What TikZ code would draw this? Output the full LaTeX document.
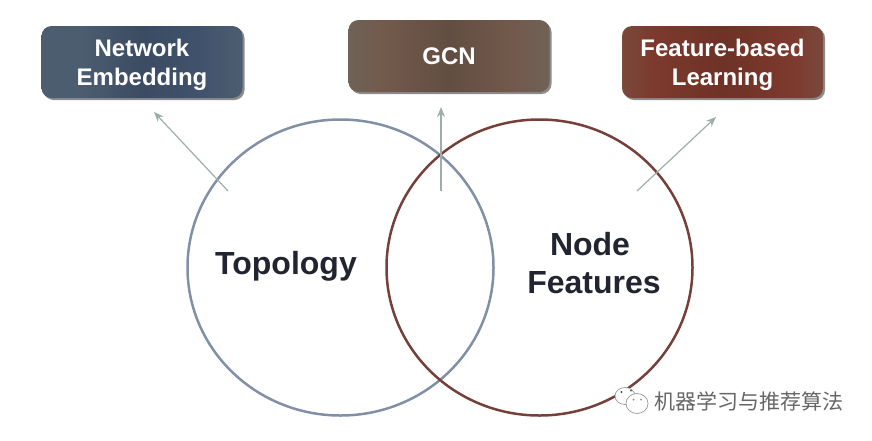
\documentclass[tikz,border=0pt]{standalone}
\usepackage{fontspec}
\setmainfont{Liberation Sans}
\newfontfamily\cjkfont{Noto Sans CJK SC}
\usetikzlibrary{arrows.meta,positioning,shadings,shadows,shapes.geometric}
\definecolor{boxblueA}{HTML}{3A4B63}
\definecolor{boxblueB}{HTML}{4D5D70}
\definecolor{boxblueC}{HTML}{41536C}
\definecolor{boxbrownA}{HTML}{624E40}
\definecolor{boxbrownB}{HTML}{735A4D}
\definecolor{boxbrownC}{HTML}{6F6257}
\definecolor{boxredA}{HTML}{6E3226}
\definecolor{boxredB}{HTML}{7D392D}
\definecolor{boxredC}{HTML}{7A483C}
\definecolor{ringblue}{HTML}{8290A6}
\definecolor{ringred}{HTML}{76403A}
\definecolor{arrowgrey}{HTML}{9DAFA8}
\definecolor{inktext}{HTML}{22252F}
\pgfdeclarehorizontalshading{bluebar}{100bp}{
	color(0bp)=(boxblueB); color(25bp)=(boxblueB); color(35bp)=(boxblueB);
	color(50bp)=(boxblueA); color(65bp)=(boxblueC); color(75bp)=(boxblueB); color(100bp)=(boxblueB)}
\pgfdeclarehorizontalshading{brownbar}{100bp}{
	color(0bp)=(boxbrownC); color(25bp)=(boxbrownC); color(33bp)=(boxbrownB);
	color(50bp)=(boxbrownA); color(67bp)=(boxbrownB); color(75bp)=(boxbrownC); color(100bp)=(boxbrownC)}
\pgfdeclarehorizontalshading{redbar}{100bp}{
	color(0bp)=(boxredC); color(25bp)=(boxredC); color(33bp)=(boxredB);
	color(50bp)=(boxredA); color(67bp)=(boxredB); color(75bp)=(boxredC); color(100bp)=(boxredC)}
\tikzset{
	tagbox/.style={rounded corners=10pt,minimum width=201pt,minimum height=72pt,inner sep=0pt,
		align=center,text=white,font=\fontsize{24}{29.5}\selectfont\bfseries,
		drop shadow={shadow xshift=2pt,shadow yshift=-2pt,opacity=.6,fill=black!75}},
	ring/.style={ellipse,draw,line width=2.5pt,minimum width=306pt,minimum height=296pt,inner sep=0pt},
	ringlabel/.style={align=center,text=inktext,font=\fontsize{32}{38}\selectfont\bfseries},
	ar/.style={draw=arrowgrey,line width=1.2pt,-{Stealth[length=10pt,width=8pt]}},
	wechat/.style={ellipse,draw=black!40,fill=white,line width=.7pt,inner sep=0pt}
}
\newcommand{\toppad}{\rule{0pt}{23pt}}
\begin{document}
\begin{tikzpicture}[x=1pt,y=-1pt]
   \useasboundingbox (0,0) rectangle (872,440);
   \node[ring,draw=ringblue] (topo) at (340.5,267.5) {};
   \node[ring,draw=ringred] (feat) at (539.5,267.5) {};
   \node[ringlabel] (topolabel) at (286,266) {Topology};
   \node[ringlabel] (featlabel) at (594,263) {Node\kern8pt\\Features};
   \node[tagbox,shading=bluebar] (embed) at (142,62) {\toppad Network\\Embedding};
   \node[tagbox,shading=brownbar] (gcn) at (449,56) {GCN};
   \node[tagbox,shading=redbar] (learn) at (722.5,62) {\toppad Feature-based\\Learning};
   \coordinate (embedtail) at (228,191);
   \coordinate (embedtip) at (154,112);
   \coordinate (gcntail) at (441,191);
   \coordinate (gcntip) at (441,107);
   \coordinate (learntail) at (637,191);
   \coordinate (learntip) at (716,117);
   \draw[ar] (embedtail) -- (embedtip);
   \draw[ar] (gcntail) -- (gcntip);
   \draw[ar] (learntail) -- (learntip);
   % watermark
   \node[wechat,minimum width=20pt,minimum height=17pt] (bubbleA) at (625,396) {};
   \node[wechat,minimum width=22pt,minimum height=20pt] (bubbleB) at (637,403.5) {};
   \fill[black!70] (621.5,392) circle (1.2pt) (631,390.5) circle (1pt);
   \fill[black!45] (633.5,399.5) circle (1pt) (641,399.5) circle (1pt);
   \node[anchor=west,inner sep=0pt,text=black!60,font=\cjkfont\fontsize{21}{21}\selectfont] (mark) at (654,401) {机器学习与推荐算法};
\end{tikzpicture}
\end{document}
